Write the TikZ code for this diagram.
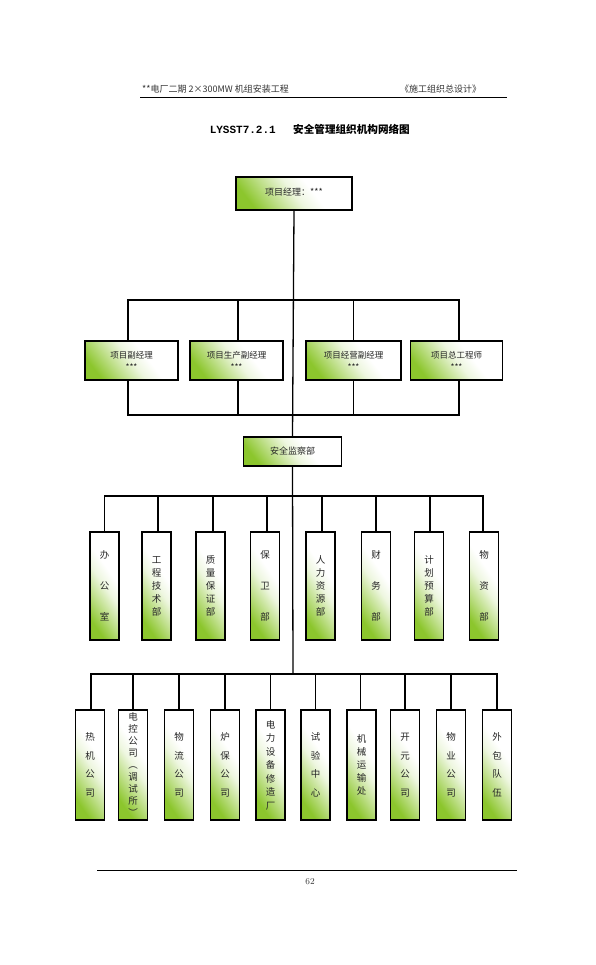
\documentclass[tikz,border=0pt]{standalone}
\usepackage{fontspec}
\newfontfamily\cjk{Noto Sans CJK SC}
\newfontfamily\monob{Liberation Mono}
\definecolor{lgreen}{RGB}{140,198,45}
\pgfdeclareverticalshading{gfade}{100bp}{color(0bp)=(lgreen); color(25bp)=(lgreen); color(38bp)=(lgreen!55!white); color(50bp)=(lgreen!15!white); color(60bp)=(white); color(100bp)=(white)}
\tikzset{
  conn/.style={line width=1.3pt, black},
  hbox/.style={draw=black, line width=1.6pt, shading=gfade, shading angle=-52, inner sep=0pt, align=center, font=\cjk\fontsize{8.5}{12}\selectfont, text=black!85},
  vbox/.style={draw=black, line width=1.6pt, shading=gfade, shading angle=-55, inner sep=0pt, align=center, minimum width=29pt, text=black!85},
  vr3/.style={vbox, minimum height=108pt},
  vr4/.style={vbox, minimum height=110pt},
  vta/.style={font=\cjk\fontsize{9.5}{31}\selectfont},
  vtb/.style={font=\cjk\fontsize{9.5}{18.5}\selectfont},
  vtc/.style={font=\cjk\fontsize{9.5}{13}\selectfont},
  vtd/.style={font=\cjk\fontsize{9.5}{13.5}\selectfont},
  vte/.style={font=\cjk\fontsize{9.5}{12}\selectfont},
}
\begin{document}
\begin{tikzpicture}[x=1pt,y=-1pt]
\useasboundingbox[fill=white] (0,0) rectangle (596,965);
% header
\node[anchor=base west, font=\cjk\fontsize{9}{10}\selectfont, text=black!80, inner sep=0pt] (hl) at (142,93) {**电厂二期 2×300MW 机组安装工程};
\node[anchor=base west, font=\cjk\fontsize{9}{10}\selectfont, text=black!80, inner sep=0pt] (hr) at (400,93) {《施工组织总设计》};
\coordinate (h1) at (140,97.5);
\coordinate (h2) at (400,97.5);
\coordinate (h3) at (507,97.5);
\draw[line width=0.6pt] (h1) -- (h2);
\draw[line width=1.2pt] (h2) -- (h3);
% title
\node[anchor=base east, font=\monob\bfseries\fontsize{11}{12}\selectfont, inner sep=0pt] (t1) at (276,134) {LYSST7.2.1};
\node[anchor=base west, font=\cjk\bfseries\fontsize{10.6}{12}\selectfont, inner sep=0pt] (t2) at (293,134) {安全管理组织机构网络图};
% top box
\node[hbox, minimum width=116pt, minimum height=33pt, font=\cjk\fontsize{9}{12}\selectfont] (pm) at (294,193.5) {\raisebox{3pt}{项目经理：***}};
% row 2
\node[hbox, minimum width=93pt, minimum height=39pt] (b1) at (131.5,360.5) {项目副经理\\***};
\node[hbox, minimum width=93pt, minimum height=39pt] (b2) at (236.5,360.5) {项目生产副经理\\***};
\node[hbox, minimum width=95pt, minimum height=39pt] (b3) at (353.5,360.5) {项目经营副经理\\***};
\node[hbox, minimum width=92pt, minimum height=39pt] (b4) at (456.5,360.5) {项目总工程师\\***};
% safety
\node[hbox, minimum width=98pt, minimum height=29pt, font=\cjk\fontsize{9}{12}\selectfont] (sa) at (292.5,451.5) {安全监察部};
% row 3
\node[vr3, vta] (c1) at (104.5,586) {办\\公\\室};
\node[vr3, vtc] (c2) at (156.5,586) {工\\程\\技\\术\\部};
\node[vr3, vtc] (c3) at (210.5,586) {质\\量\\保\\证\\部};
\node[vr3, vta] (c4) at (265,586) {保\\卫\\部};
\node[vr3, vtc] (c5) at (320.5,586) {人\\力\\资\\源\\部};
\node[vr3, vta] (c6) at (376,586) {财\\务\\部};
\node[vr3, vtc] (c7) at (429,586) {计\\划\\预\\算\\部};
\node[vr3, vta] (c8) at (484,586) {物\\资\\部};
% row 4
\node[vr4, vtb] (d1) at (90,765) {热\\机\\公\\司};
\node[vr4, vte] (d2) at (133,765) {电\\控\\公\\司\\︵\\调\\试\\所\\︶};
\node[vr4, vtb] (d3) at (179,765) {物\\流\\公\\司};
\node[vr4, vtb] (d4) at (225,765) {炉\\保\\公\\司};
\node[vr4, vtd] (d5) at (270.5,765) {电\\力\\设\\备\\修\\造\\厂};
\node[vr4, vtb] (d6) at (315.5,765) {试\\验\\中\\心};
\node[vr4, vtc] (d7) at (361.5,765) {机\\械\\运\\输\\处};
\node[vr4, vtb] (d8) at (405,765) {开\\元\\公\\司};
\node[vr4, vtb] (d9) at (451,765) {物\\业\\公\\司};
\node[vr4, vtb] (d10) at (497,765) {外\\包\\队\\伍};
% bus coordinates
\coordinate (u1) at (293,300);
\coordinate (l1) at (293,415);
\coordinate (u2) at (293,496);
\coordinate (u3) at (293,674);
% trunk
\draw[conn] (pm.south) -- (sa.north);
\draw[conn] (sa.south) -- (u3);
% row 2 buses
\draw[conn] ([xshift=-3.5pt]b1.north) |- (u1) -| ([xshift=2.5pt]b4.north);
\draw[conn] ([xshift=1.5pt]b2.north) -- ([xshift=1.5pt]b2.north |- u1);
\draw[conn] (b3.north) -- (b3.north |- u1);
\draw[conn] ([xshift=-3.5pt]b1.south) |- (l1) -| ([xshift=2.5pt]b4.south);
\draw[conn] ([xshift=1.5pt]b2.south) -- ([xshift=1.5pt]b2.south |- l1);
\draw[conn] (b3.south) -- (b3.south |- l1);
% row 3 bus
\draw[conn] (c1.north) |- (u2) -| ([xshift=-1pt]c8.north);
\foreach \n/\dx in {c2/1.5,c3/2.5,c4/2,c5/1.5,c6/0,c7/1}
  \draw[conn] ([xshift=\dx pt]\n.north) -- ([xshift=\dx pt]\n.north |- u2);
% row 4 bus
\draw[conn] ([xshift=1pt]d1.north) |- (u3) -| (d10.north);
\foreach \n/\dx in {d2/0,d3/0,d4/0,d5/0,d6/0,d7/-1,d8/0,d9/0}
  \draw[conn] ([xshift=\dx pt]\n.north) -- ([xshift=\dx pt]\n.north |- u3);
% footer
\coordinate (f1) at (97,870.5);
\coordinate (f2) at (517,870.5);
\draw[line width=1.4pt] (f1) -- (f2);
\node[anchor=base, font=\fontsize{9}{10}\selectfont, text=black!80, inner sep=0pt] (pg) at (310,884) {62};
\end{tikzpicture}
\end{document}
